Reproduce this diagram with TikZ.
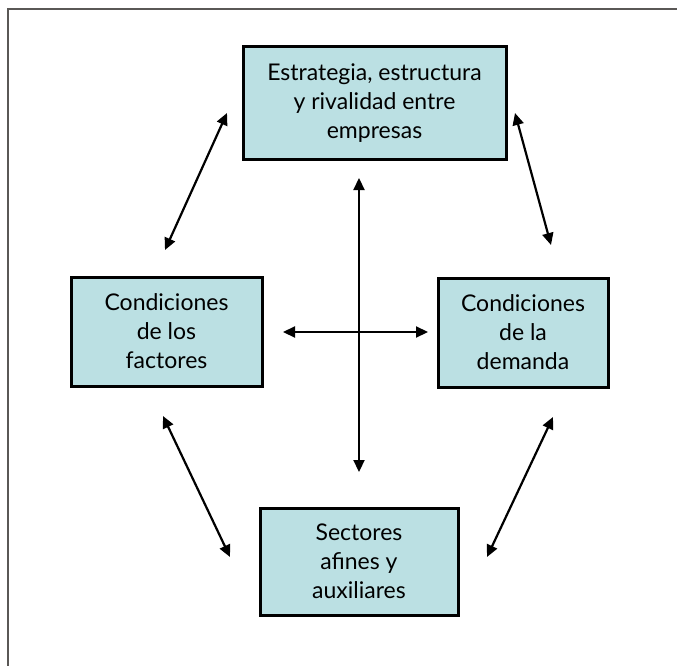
\documentclass[tikz,border=0pt]{standalone}
\usepackage{fontspec}
\setmainfont{Lato}
\usetikzlibrary{arrows.meta}
\definecolor{boxfill}{RGB}{187,224,227}
\definecolor{framegray}{RGB}{90,88,86}
\begin{document}
\begin{tikzpicture}[x=1pt,y=-1pt,
  box/.style={draw=black,line width=3pt,fill=boxfill,align=center,inner sep=0pt,
    font=\fontsize{23}{29}\selectfont},
  dbl/.style={line width=2.2pt,{Triangle[length=12pt,width=11pt]}-{Triangle[length=12pt,width=11pt]}}]
\useasboundingbox (0,0) rectangle (677,666);
\draw[framegray,line width=2pt] (8,666) -- (8,9) -- (677,9);
\node[box,minimum width=263pt,minimum height=112pt] (top) at (374.5,103) {Estrategia, estructura\\y rivalidad entre\\empresas};
\node[box,minimum width=191pt,minimum height=109pt] (left) at (166.5,331.5) {Condiciones\\de los\\factores};
\node[box,minimum width=170pt,minimum height=109pt] (right) at (523,332.5) {Condiciones\\de la\\demanda};
\node[box,minimum width=198pt,minimum height=107pt] (bot) at (359,561.5) {Sectores\\afines y\\auxiliares};
\coordinate (h1) at (283,332); \coordinate (h2) at (428,332);
\coordinate (v1) at (359,178); \coordinate (v2) at (359,472);
\coordinate (tl1) at (227,113); \coordinate (tl2) at (165,250);
\coordinate (tr1) at (515,113); \coordinate (tr2) at (551,245);
\coordinate (bl1) at (163,416); \coordinate (bl2) at (230,557);
\coordinate (br1) at (553,417); \coordinate (br2) at (487,557);
\draw[dbl] (h1) -- (h2);
\draw[dbl] (v1) -- (v2);
\draw[dbl] (tl1) -- (tl2);
\draw[dbl] (tr1) -- (tr2);
\draw[dbl] (bl1) -- (bl2);
\draw[dbl] (br1) -- (br2);
\end{tikzpicture}
\end{document}
